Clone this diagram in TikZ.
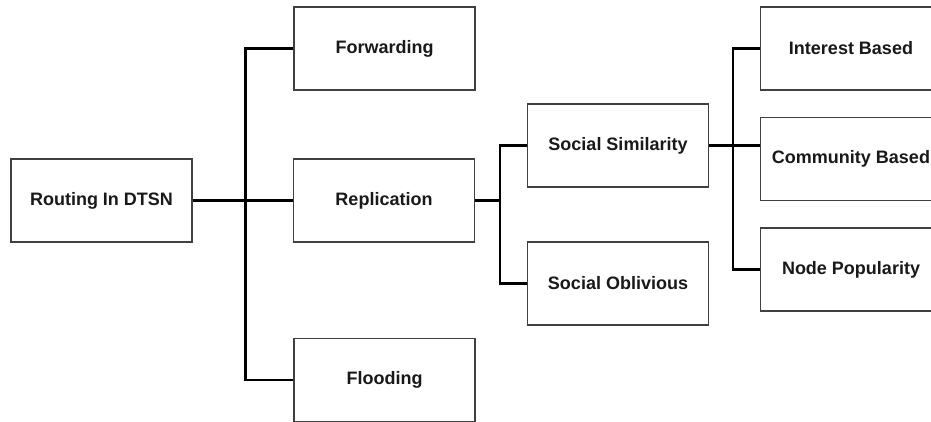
\documentclass[tikz,border=0pt]{standalone}
\usepackage{fontspec}
\setmainfont{Liberation Sans}
\begin{document}
\begin{tikzpicture}[x=0.75pt,y=-0.75pt,
  box/.style={draw=black!75, line width=1.2pt, fill=white, rectangle,
    minimum width=135.5pt, minimum height=62pt, inner sep=0pt,
    font=\fontsize{13.5}{16}\selectfont\bfseries, text=black!90},
  link/.style={draw=black, line width=2pt}]
\useasboundingbox (0,0) rectangle (931,421);
\begin{scope}
\clip (0,0) rectangle (931,421);
% tree nodes
\node[box] (routing)     at (101.5,200.5) {Routing In DTSN};
\node[box] (forwarding)  at (384.5,48.5)  {Forwarding};
\node[box] (replication) at (384,200.5)   {Replication};
\node[box] (flooding)    at (384.5,380)   {Flooding};
\node[box] (socsim)      at (618,145.5)   {Social Similarity};
\node[box] (socobl)      at (618,283.5)   {Social Oblivious};
\node[box] (interest)    at (851,48.5)    {Interest Based};
\node[box] (community)   at (851,159)     {Community Based};
\node[box] (nodepop)     at (851,269.5)   {Node Popularity};
% bus junctions
\coordinate (b1) at (245.5,200.5);
\coordinate (b2) at (500,200.5);
\coordinate (b3) at (733,146);
% connectors
\draw[link] (routing.east) -- (replication.west);
\draw[link] (forwarding.west) -| (b1) |- (flooding.west);
\draw[link] (replication.east) -- (b2);
\draw[link] (socsim.west) -| (b2) |- (socobl.west);
\draw[link] (socsim.east) -- (socsim.east -| community.west);
\draw[link] (interest.west) -| (b3) |- (nodepop.west);
\end{scope}
\end{tikzpicture}
\end{document}
